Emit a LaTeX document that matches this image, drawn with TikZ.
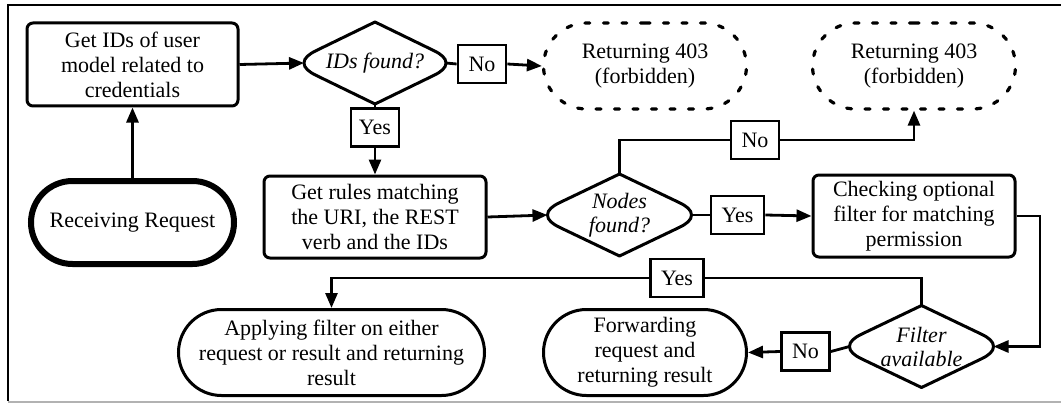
\documentclass[tikz,border=0pt]{standalone}
\usepackage{fontspec}
\setmainfont{Liberation Serif}
\usetikzlibrary{arrows.meta,shapes.misc}
\newcommand{\decis}[6]{%
  \node[decnode, minimum width={2*#4}, minimum height={2*#5}] (#1) at (#2,#3) {#6};
  \draw[decline, shift={(#2,#3)}]
    (0,-#5) -- ({-(#4-12)},{-0.3*#5})
    .. controls ({-1.12*(#4-12)},{-0.216*#5}) and ({-#4},{-0.12*#5}) .. ({-#4},0)
    .. controls ({-#4},{0.12*#5}) and ({-1.12*(#4-12)},{0.216*#5}) .. ({-(#4-12)},{0.3*#5})
    -- (0,#5)
    -- ({#4-12},{0.3*#5})
    .. controls ({1.12*(#4-12)},{0.216*#5}) and ({#4},{0.12*#5}) .. ({#4},0)
    .. controls ({#4},{-0.12*#5}) and ({1.12*(#4-12)},{-0.216*#5}) .. ({#4-12},{-0.3*#5})
    -- cycle;
}
\begin{document}
\begin{tikzpicture}[x=1pt,y=-1pt,
  txt/.style={font=\fontsize{22}{25}\selectfont, align=center, text=black},
  box/.style={txt, draw, rounded corners=6pt, line width=3pt, inner sep=0pt},
  stad/.style={txt, draw, rounded rectangle, line width=3pt, inner sep=0pt},
  dashstad/.style={stad, line width=3.2pt, line cap=round, dash pattern=on 5pt off 13.5pt},
  lbl/.style={txt, draw, line width=2.8pt, inner sep=0pt, minimum width=48, minimum height=38, fill=white},
  decnode/.style={txt, inner sep=0pt, outer sep=0pt, font=\fontsize{22}{24}\selectfont\itshape},
  decline/.style={line width=3pt, line join=round},
  conn/.style={line width=2.8pt},
  arr/.style={conn, -{Triangle[length=15pt,width=12pt]}}
]
\useasboundingbox (0,0) rectangle (1061,404);
% frame
\draw[line width=2.8pt] (1061,5) -- (8,5) -- (8,401);
\draw[gray!60, line width=1.2pt] (8,402) -- (1061,402);

% nodes
\node[box, minimum width=211, minimum height=83] (A) at (132.5,64.5) {Get IDs of user\\model related to\\credentials};
\node[stad, line width=6pt, minimum width=203, minimum height=83] (recv) at (132.5,222.5) {Receiving Request};
\decis{dIDs}{375}{63}{71}{41}{IDs found?}
\node[lbl] (yes1) at (375,127.5) {Yes};
\node[lbl] (no1) at (482,64) {No};
\node[dashstad, minimum width=203, minimum height=86] (ret1) at (645,66) {Returning 403\\(forbidden)};
\node[dashstad, minimum width=203, minimum height=86] (ret2) at (914,66) {Returning 403\\(forbidden)};
\node[box, minimum width=222, minimum height=82] (rules) at (375,217) {Get rules matching\\the URI, the REST\\verb and the IDs};
\decis{dNodes}{619.5}{215}{72}{41}{Nodes\\found?}
\node[lbl] (no2) at (755,140) {No};
\node[lbl, minimum width=53] (yes2) at (737.5,215) {Yes};
\node[box, minimum width=202, minimum height=82] (check) at (914,216) {Checking optional\\filter for matching\\permission};
\decis{dFilter}{921.5}{346.5}{72}{41}{Filter\\available};
\node[lbl, minimum width=53] (yes3) at (677,278) {Yes};
\node[stad, minimum width=306, minimum height=86] (apply) at (331.5,352.5) {Applying filter on either\\request or result and returning\\result};
\node[stad, minimum width=203, minimum height=86] (fwd) at (645,352.5) {Forwarding\\request and\\returning result};
\node[lbl] (no3) at (805.5,351.5) {No};
\coordinate (c1) at (1040,216);

% connectors
\draw[arr] (recv.north) -- (A.south);
\draw[arr] (A.east) -- (dIDs.west);
\draw[conn] (dIDs.east) -- (no1.west);
\draw[arr] (no1.east) -- (ret1.west);
\draw[conn] (dIDs.south) -- (yes1.north);
\draw[arr] (yes1.south) -- (rules.north);
\draw[arr] (rules.east) -- (dNodes.west);
\draw[conn] (dNodes.north) |- (no2.west);
\draw[arr] (no2.east) -| (ret2.south);
\draw[conn] (dNodes.east) -- (yes2.west);
\draw[arr] (yes2.east) -- (check.west);
\draw[arr] (check.east) -- (c1) |- (dFilter.east);
\draw[conn] (dFilter.north) |- (yes3.east);
\draw[arr] (yes3.west) -| (apply.north);
\draw[conn] (dFilter.west) -- (no3.east);
\draw[arr] (no3.west) -- (fwd.east);
\end{tikzpicture}
\end{document}
